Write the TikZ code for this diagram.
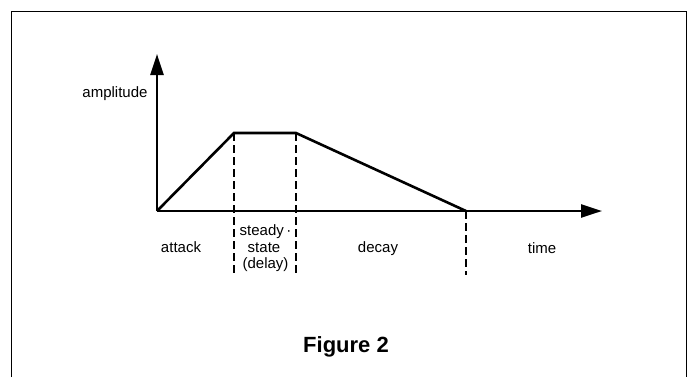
\documentclass[tikz,border=0pt]{standalone}
\usepackage{fontspec}
\setmainfont{Liberation Sans}
\usetikzlibrary{arrows.meta}
\begin{document}
\begin{tikzpicture}[x=1bp,y=-1bp,
  frameline/.style={line width=1.3bp},
  axisline/.style={line width=2.4bp,-{Triangle[length=21bp,width=13bp]}},
  envline/.style={line width=2.6bp,line join=miter},
  dashline/.style={line width=2bp,dash pattern=on 8bp off 4bp},
  lbl/.style={anchor=base,inner sep=0pt,font=\fontsize{15bp}{17bp}\selectfont},
  title/.style={anchor=base,inner sep=0pt,font=\fontsize{22bp}{26bp}\selectfont\bfseries}]
\useasboundingbox (0,0) rectangle (690,377);
% frame
\draw[frameline] (11.5,377) -- (11.5,11.5) -- (686.5,11.5) -- (686.5,377);
% key points
\coordinate (O) at (157,211);
\coordinate (ytip) at (157,54);
\coordinate (xtip) at (602,211);
\coordinate (P1) at (234,133);
\coordinate (P2) at (296,133);
\coordinate (P3) at (466,211);
\coordinate (D1) at (234,277);
\coordinate (D2) at (296,277);
\coordinate (D3) at (466,275);
% dashed separators
\draw[dashline] (P1) -- (D1);
\draw[dashline] (P2) -- (D2);
\draw[dashline] (P3) -- (D3);
% axes
\draw[axisline] (O) -- (ytip);
\draw[axisline] (O) -- (xtip);
% envelope
\draw[envline] (O) -- (P1) -- (P2) -- (P3);
% labels
\node[lbl] (amp) at (115,97) {amplitude};
\node[lbl] (att) at (181,252) {attack};
\node[lbl] (st1) at (265.5,235) {steady\,·};
\node[lbl] (st2) at (264,252) {state};
\node[lbl] (st3) at (265.5,268) {(delay)};
\node[lbl] (dec) at (378,252) {decay};
\node[lbl] (tim) at (542,253) {time};
\node[title] (fig) at (346,352) {Figure 2};
\end{tikzpicture}
\end{document}
